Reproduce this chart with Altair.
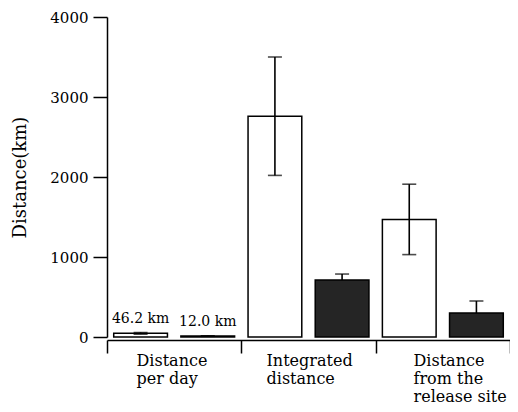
import altair as alt
import pandas as pd

# ---- data ----
group_lines = [["Distance", "per day"], ["Integrated", "distance"], ["Distance", "from the", "release site"]]
series = ["open", "filled"]
open_mean = [46.2, 2760, 1470]
open_err = [10, 740, 440]
filled_mean = [12.0, 712, 300]
filled_err = [3, 75, 150]
value_labels = ["46.2 km", "12.0 km", "", "", "", ""]

FONT = "DejaVu Serif"

rows = []
k = 0
for gi in range(len(group_lines)):
    for si, (means, errs) in enumerate([(open_mean, open_err), (filled_mean, filled_err)]):
        x0 = gi + 0.05 + 0.5 * si
        x1 = x0 + 0.4
        m = means[gi]
        e = errs[gi]
        rows.append(dict(x0=x0, x1=x1, xc=(x0 + x1) / 2, mean=m, lo=m - e, hi=m + e,
                         series=series[si], label=value_labels[k]))
        k += 1
df = pd.DataFrame(rows)

# x-axis: boundary ticks at integers, left-aligned group labels
label_pos = [0.216, 1.184, 2.278]
tick_vals = sorted([0, 1, 2, 3] + label_pos)
expr = "''"
for p, lines in reversed(list(zip(label_pos, group_lines))):
    arr = "[" + ",".join("'" + s + "'" for s in lines) + "]"
    expr = f"abs(datum.value - {p}) < 0.001 ? {arr} : {expr}"

xscale = alt.Scale(domain=[0, 3], nice=False, zero=False)
yscale = alt.Scale(domain=[0, 4000], nice=False)

xaxis = alt.Axis(
    values=tick_vals, labelExpr=expr, labelAlign="left", labelBaseline="top",
    tickSize=13, tickOpacity={"condition": {"test": "datum.value % 1 == 0", "value": 1}, "value": 0},
    labelPadding=-1, domainColor="black", tickColor="black", domainWidth=1.5, tickWidth=1.5,
    labelFont=FONT, labelFontSize=16, labelLineHeight=18, labelColor="black",
    labelOverlap=False, labelFlush=False, labelBound=False, offset=3, title=None, grid=False,
)
yaxis = alt.Axis(
    values=[0, 1000, 2000, 3000, 4000], format="d", tickSize=14, labelPadding=5,
    labelFont=FONT, labelFontSize=15, labelColor="black",
    domainColor="black", tickColor="black", domainWidth=1.5, tickWidth=1.5,
    title="Distance(km)", titleFont=FONT, titleFontSize=18, titleFontWeight="normal",
    titleColor="black", titlePadding=20, grid=False,
)

base = alt.Chart(df)

err = base.mark_rule(color="black", strokeWidth=1.6).encode(
    x=alt.X("xc:Q", scale=xscale, axis=xaxis),
    y=alt.Y("lo:Q", scale=yscale, axis=yaxis),
    y2="hi:Q",
)

caps = base.transform_fold(["lo", "hi"], as_=["end", "v"]).mark_tick(
    orient="horizontal", size=14, thickness=1.6, color="black"
).encode(x="xc:Q", y="v:Q")

bars = base.mark_bar(stroke="black", strokeWidth=1.5).encode(
    x="x0:Q",
    x2="x1:Q",
    y="mean:Q",
    y2=alt.datum(0),
    fill=alt.Fill("series:N", scale=alt.Scale(domain=series, range=["transparent", "#252525"]), legend=None),
)

text = base.transform_filter("datum.label != ''").mark_text(
    font=FONT, fontSize=14, baseline="alphabetic", dy=-10, color="black"
).encode(x="xc:Q", y="mean:Q", text="label:N")

chart = alt.layer(err, caps, bars, text).properties(
    width=403, height=320,
    autosize=alt.AutoSizeParams(type="none"),
    padding={"left": 99, "top": 9, "right": 0, "bottom": 67},
).configure_view(stroke=None)

chart.save("out.html", embed_options={"renderer": "svg", "actions": False})
